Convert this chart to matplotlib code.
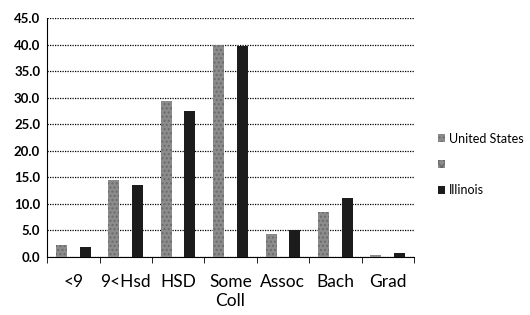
import matplotlib
matplotlib.use("Agg")
import matplotlib.pyplot as plt
import matplotlib.patches as mpatches
import numpy as np

categories = ["<9", "9<Hsd", "HSD", "Some\nColl", "Assoc", "Bach", "Grad"]
us_values = [2.3, 14.5, 29.4, 40.0, 4.3, 8.5, 0.4]
il_values = [1.8, 13.5, 27.4, 39.8, 5.1, 11.2, 0.7]
y_ticks = [0, 5, 10, 15, 20, 25, 30, 35, 40, 45]

US_COLOR = "#8c8c8c"
IL_COLOR = "#1c1c1c"

plt.rcParams["font.family"] = ["Lato", "DejaVu Sans"]

fig = plt.figure(figsize=(5.3, 3.15), dpi=100)
ax = fig.add_axes([0.089, 0.184, 0.692, 0.759])

x = np.arange(len(categories))
width = 0.21
ax.bar(x - 0.225, us_values, width, color=US_COLOR, hatch="....",
       edgecolor="#6a6a6a", linewidth=0, zorder=3)
ax.bar(x + 0.225, il_values, width, color=IL_COLOR, zorder=3)

ax.set_xlim(-0.5, len(categories) - 0.5)
ax.set_ylim(0, 45)
ax.set_yticks(y_ticks)
ax.set_yticklabels(["{:.1f}".format(v) for v in y_ticks],
                   fontsize=9.5, fontweight="bold")
ax.yaxis.grid(True, linestyle=(0, (1, 1)), color="black", linewidth=0.9,
              zorder=0)

ax.set_xticks(x)
ax.set_xticklabels(categories, fontsize=12.5, linespacing=1.25)
ax.set_xticks(np.arange(len(categories) + 1) - 0.5, minor=True)
ax.tick_params(axis="x", which="major", length=0, pad=12)
ax.tick_params(axis="x", which="minor", length=4, direction="out")
ax.tick_params(axis="y", length=0, pad=5)

for side in ["top", "right"]:
    ax.spines[side].set_visible(False)
ax.spines["left"].set_linestyle((0, (1, 1)))
ax.spines["bottom"].set_linestyle((0, (1, 1)))

handles = [
    mpatches.Patch(facecolor=US_COLOR, hatch="....", edgecolor="#6a6a6a",
                   linewidth=0),
    mpatches.Patch(facecolor=US_COLOR, hatch="xxxx", edgecolor="#6a6a6a",
                   linewidth=0),
    mpatches.Patch(facecolor=IL_COLOR),
]
fig.legend(handles, ["United States", "", "Illinois"],
           loc="center left", bbox_to_anchor=(0.826, 0.478), frameon=False,
           fontsize=9, handlelength=0.6, handleheight=0.6, handletextpad=0.3,
           labelspacing=1.1, borderpad=0, borderaxespad=0)

fig.savefig("out.png", dpi=100)
